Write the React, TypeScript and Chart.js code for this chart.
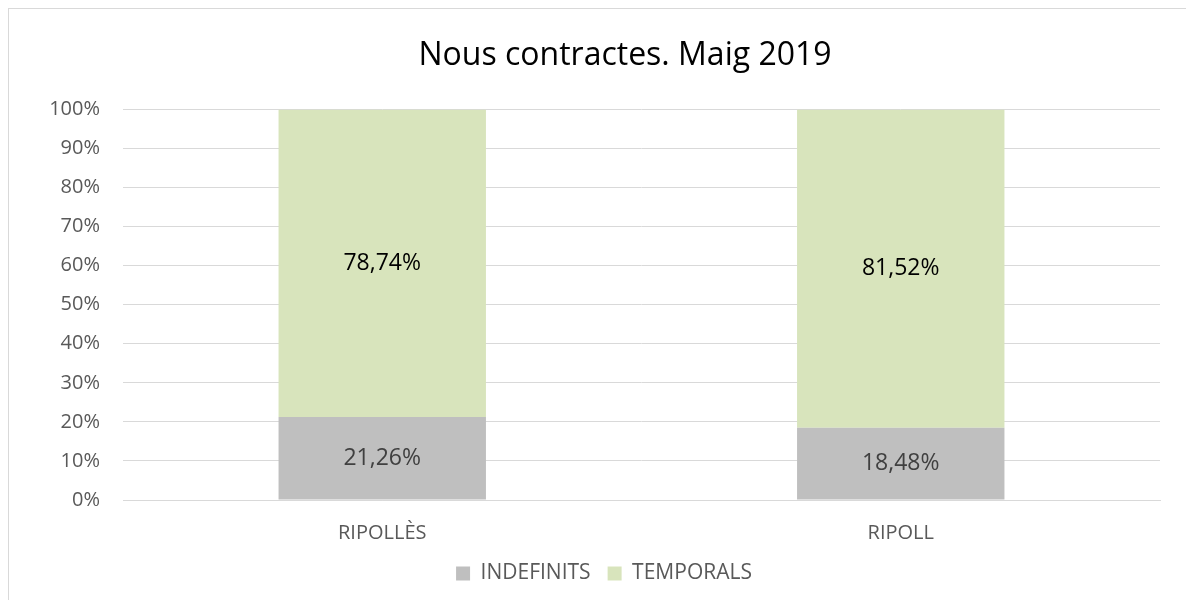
import React, { useEffect, useRef } from "react";
import { Chart, registerables } from "chart.js";

Chart.register(...registerables);

const TITLE = "Nous contractes. Maig 2019";
const CATEGORIES = ["RIPOLLÈS", "RIPOLL"];
const INDEFINITS = [21.26, 18.48];
const TEMPORALS = [78.74, 81.52];
const SERIES_NAMES = ["INDEFINITS", "TEMPORALS"];
const Y_TICKS_MAX = 100;
const Y_STEP = 10;

const FONT = "'Open Sans', sans-serif";
const fmt = (v: number) => v.toFixed(2).replace(".", ",") + "%";

const dataLabelPlugin = {
  id: "dataLabels",
  afterDatasetsDraw(chart: any) {
    const ctx = chart.ctx;
    ctx.save();
    ctx.font = `23px ${FONT}`;
    ctx.textAlign = "center";
    ctx.textBaseline = "middle";
    chart.data.datasets.forEach((ds: any, di: number) => {
      const meta = chart.getDatasetMeta(di);
      meta.data.forEach((bar: any, i: number) => {
        const { x, y, base } = bar.getProps(["x", "y", "base"], true);
        ctx.fillStyle = di === 0 ? "#404040" : "#000000";
        ctx.fillText(fmt(ds.data[i]), x, (y + base) / 2);
      });
    });
    ctx.restore();
  },
};

// the source chart centres its title on a wider frame than the legend
const titleShiftPlugin = {
  id: "titleShift",
  afterLayout(chart: any) {
    const tb = chart.titleBlock;
    if (tb) {
      tb.left += 21;
      tb.right += 21;
    }
  },
};

export default function App() {
  const ref = useRef<HTMLCanvasElement>(null);
  useEffect(() => {
    if (!ref.current) return;
    const chart = new Chart(ref.current, {
      type: "bar",
      data: {
        labels: CATEGORIES,
        datasets: [
          {
            label: SERIES_NAMES[0],
            data: INDEFINITS,
            backgroundColor: "#bfbfbf",
            barPercentage: 0.4,
            categoryPercentage: 1,
          },
          {
            label: SERIES_NAMES[1],
            data: TEMPORALS,
            backgroundColor: "#d8e4bc",
            barPercentage: 0.4,
            categoryPercentage: 1,
          },
        ],
      },
      options: {
        responsive: false,
        animation: false,
        layout: { padding: { left: 39, right: 61, top: 0, bottom: 6 } },
        plugins: {
          title: {
            display: true,
            text: TITLE,
            color: "#000000",
            font: { family: FONT, size: 32, weight: "normal" },
            padding: { top: 28, bottom: 34 },
          },
          legend: {
            position: "bottom",
            labels: {
              color: "#595959",
              font: { family: FONT, size: 21 },
              boxWidth: 14,
              boxHeight: 14,
              padding: 17,
            },
          },
          tooltip: { enabled: false },
        },
        scales: {
          x: {
            stacked: true,
            afterFit(scale: any) {
              scale.height = 46;
            },
            grid: { display: false, drawTicks: false },
            border: { display: true, color: "#d9d9d9", width: 1 },
            ticks: {
              color: "#595959",
              font: { family: FONT, size: 20 },
              padding: 21,
            },
          },
          y: {
            stacked: true,
            min: 0,
            max: Y_TICKS_MAX,
            afterFit(scale: any) {
              scale.width = 75;
            },
            grid: { color: "#d9d9d9", drawTicks: false, lineWidth: 1 },
            border: { display: false },
            ticks: {
              stepSize: Y_STEP,
              color: "#595959",
              font: { family: FONT, size: 20 },
              padding: 23,
              callback: (v: any) => v + "%",
            },
          },
        },
      },
      plugins: [dataLabelPlugin, titleShiftPlugin],
    });
    return () => chart.destroy();
  }, []);
  return (
    <div
      style={{
        width: 1186,
        height: 592,
        boxSizing: "border-box",
        borderTop: "1px solid #d9d9d9",
        borderLeft: "1px solid #d9d9d9",
        overflow: "hidden",
        background: "#fff",
      }}
    >
      <canvas ref={ref} width={1212} height={591} style={{ display: "block" }} />
    </div>
  );
}
